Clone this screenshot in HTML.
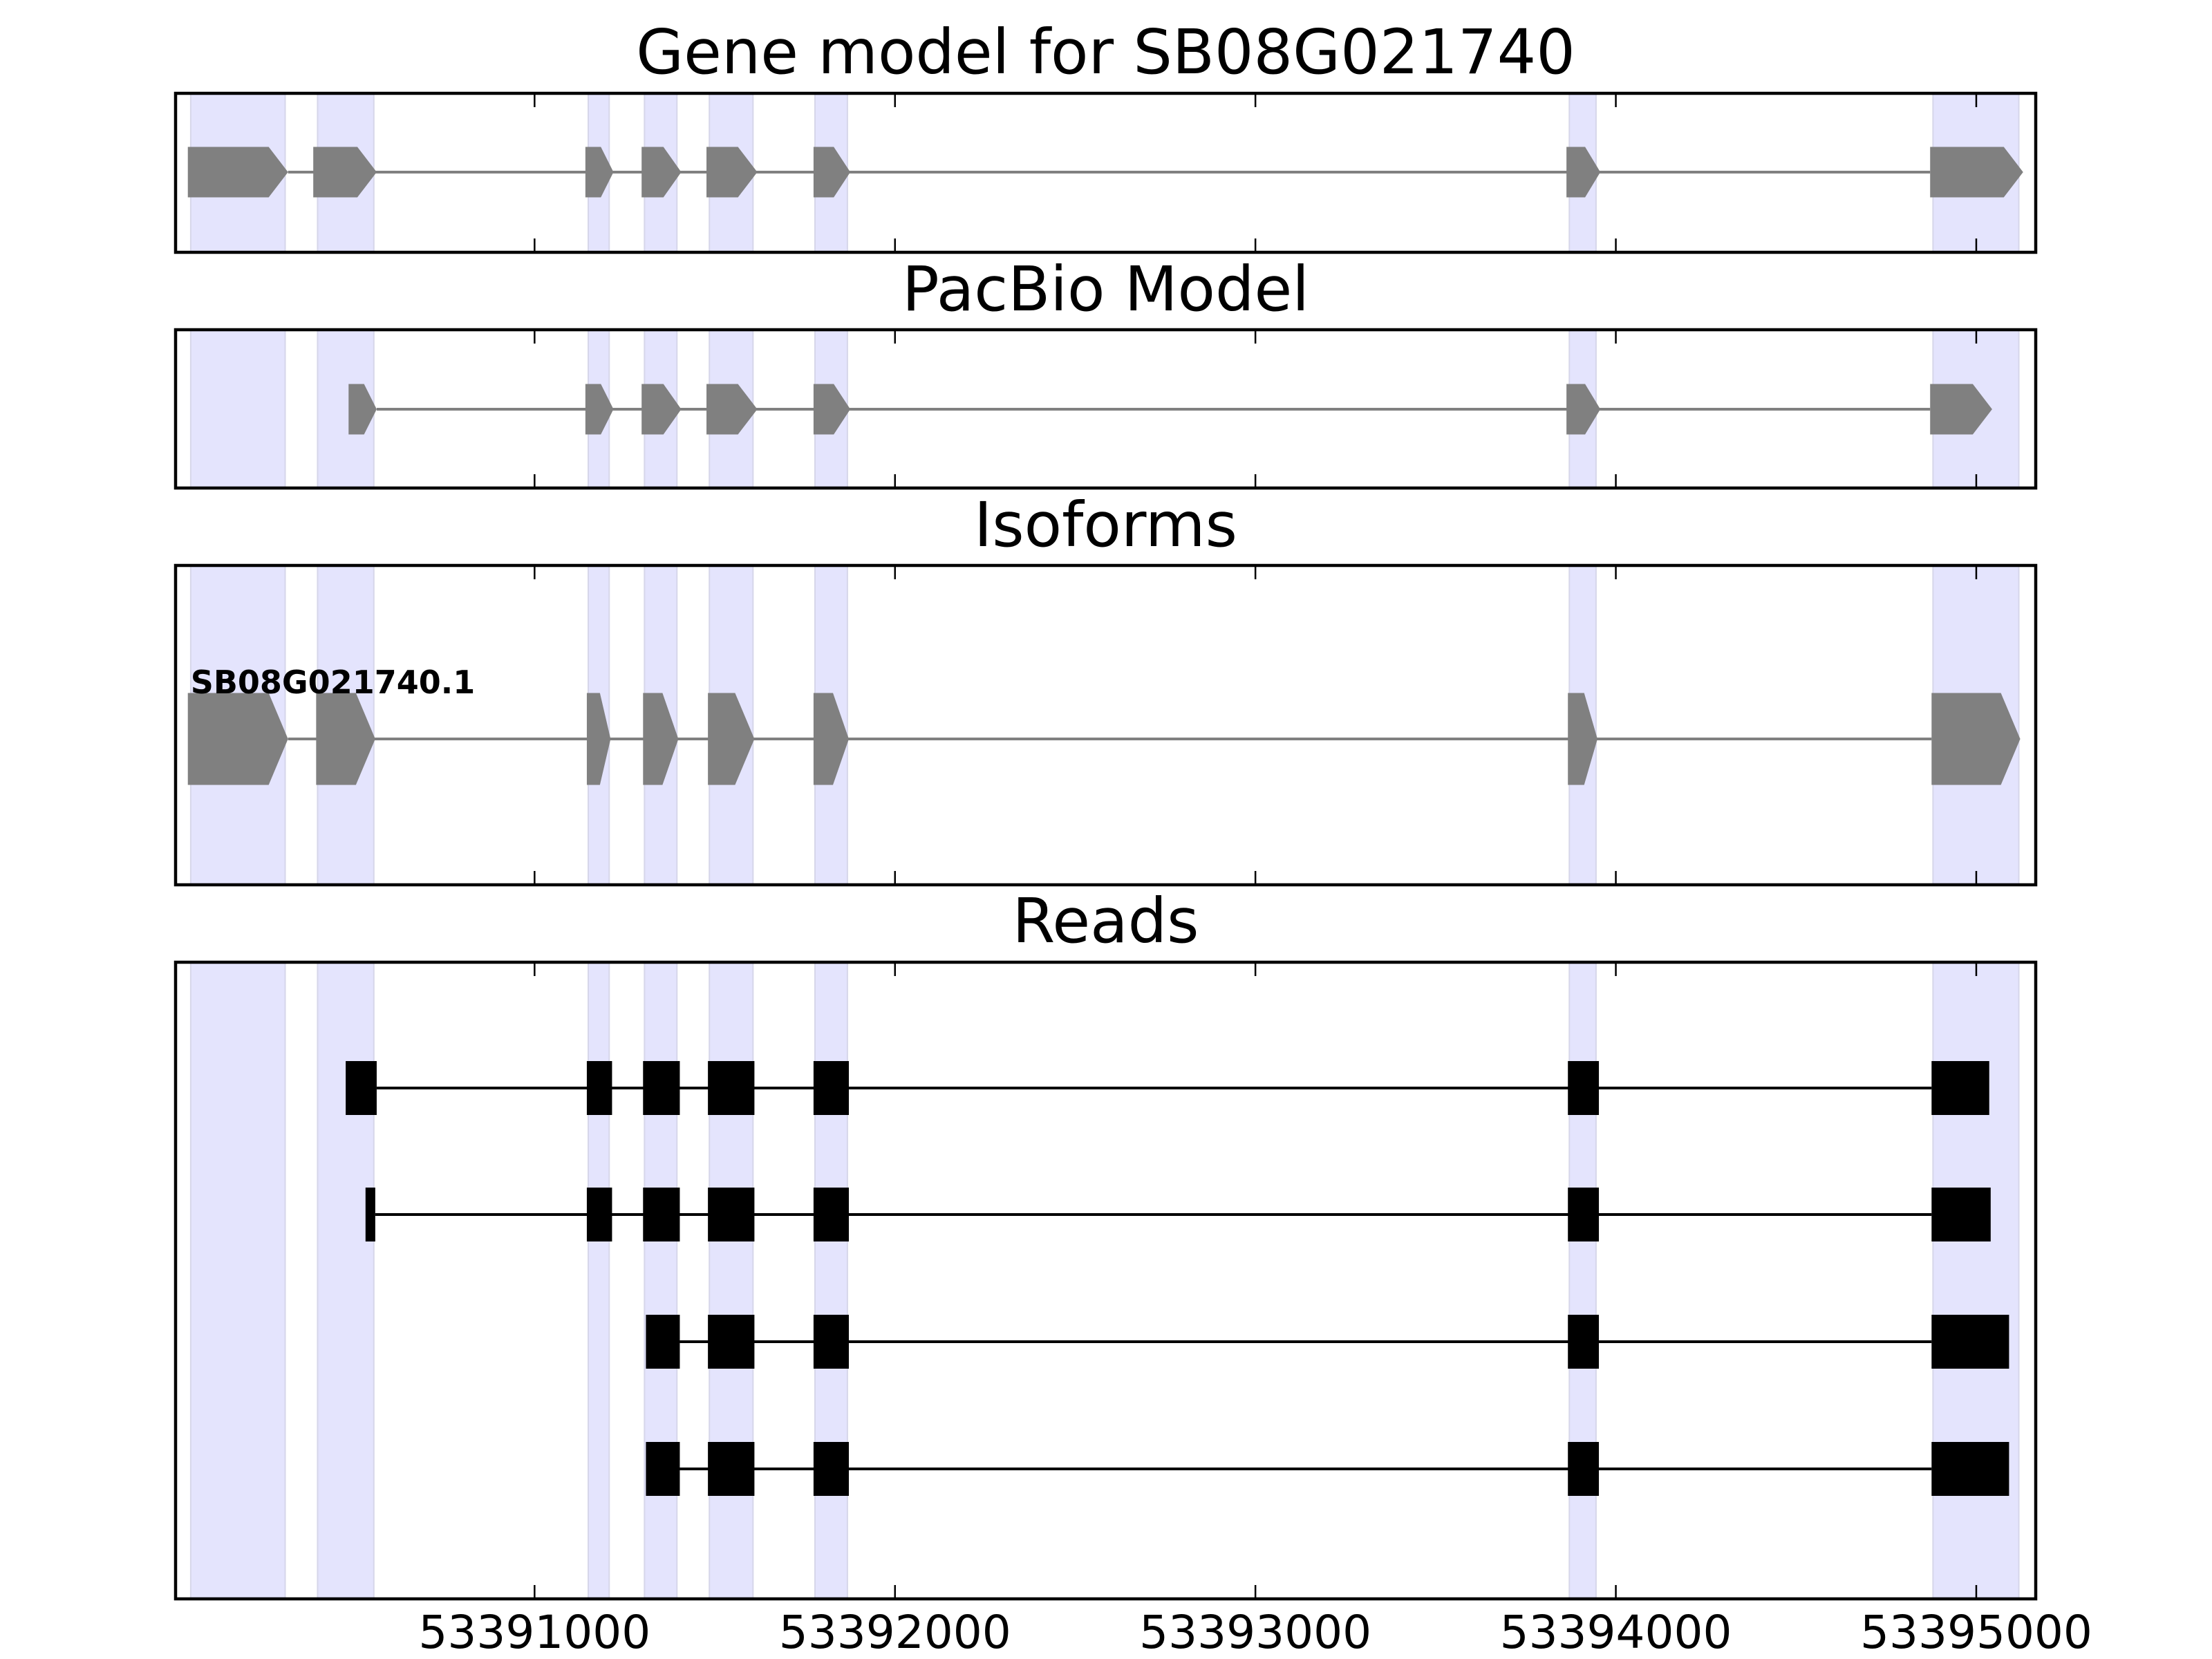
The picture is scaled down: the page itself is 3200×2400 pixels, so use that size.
<!DOCTYPE html>
<html><head><meta charset="utf-8"><style>
html,body{margin:0;padding:0;background:#fff}
svg{display:block}
text{font-family:"DejaVu Sans","Liberation Sans",sans-serif}
</style></head><body>
<svg id="fig" width="3200" height="2400" viewBox="0 0 3200 2400" xmlns="http://www.w3.org/2000/svg"></svg>
<script>
// ---- data ----
const xTicks = [53391000, 53392000, 53393000, 53394000, 53395000];
const xDomain = [53390004, 53395165];
const bands = [[53390046,53390308],[53390398,53390554],[53391149,53391207],[53391305,53391395],[53391485,53391606],[53391778,53391868],[53393871,53393945],[53394880,53395118]];
const geneExons = [[53390038,53390316],[53390386,53390562],[53391141,53391219],[53391297,53391407],[53391477,53391618],[53391774,53391876],[53393863,53393957],[53394872,53395130]];
const pacbioExons = [[53390484,53390562],[53391141,53391219],[53391297,53391407],[53391477,53391618],[53391774,53391876],[53393863,53393957],[53394872,53395044]];
const isoformExons = [[53390038,53390316],[53390394,53390558],[53391145,53391211],[53391301,53391399],[53391481,53391610],[53391774,53391872],[53393867,53393949],[53394876,53395122]];
const isoformName = "SB08G021740.1";
const read1 = [[53390476,53390562],[53391145,53391215],[53391301,53391403],[53391481,53391610],[53391774,53391872],[53393867,53393953],[53394876,53395036]];
const read2 = [[53390531,53390558],[53391145,53391215],[53391301,53391403],[53391481,53391610],[53391774,53391872],[53393867,53393953],[53394876,53395040]];
const read3 = [[53391309,53391403],[53391481,53391610],[53391774,53391872],[53393867,53393953],[53394876,53395091]];
const read4 = [[53391309,53391403],[53391481,53391610],[53391774,53391872],[53393867,53393953],[53394876,53395091]];
const reads = [read1, read2, read3, read4];

// ---- layout ----
const L = 254, R = 2945;
const X = g => L + (g - xDomain[0]) / (xDomain[1] - xDomain[0]) * (R - L);
const NS = "http://www.w3.org/2000/svg";
const svg = document.getElementById('fig');
function mk(tag, attrs, parent){ const e=document.createElementNS(NS,tag); for(const k in attrs) e.setAttribute(k,attrs[k]); (parent||svg).appendChild(e); return e; }

const panels = [
  {title:"Gene model for SB08G021740", top:135, bot:365, tY:106, name:"gene-model-panel"},
  {title:"PacBio Model", top:477, bot:706, tY:449, name:"pacbio-panel"},
  {title:"Isoforms", top:818, bot:1280, tY:790, name:"isoforms-panel"},
  {title:"Reads", top:1392, bot:2313, tY:1363, name:"reads-panel"}
];

function arrowExon(g, a, b, cy, h, name){
  const x1=X(a), x2=X(b), w=x2-x1;
  const tip=Math.min(28, w*0.45);
  const p = mk('polygon',{points:`${x1},${cy-h/2} ${x2-tip},${cy-h/2} ${x2},${cy} ${x2-tip},${cy+h/2} ${x1},${cy+h/2}`, fill:'#808080'}, g);
  
  
}

panels.forEach((p, pi) => {
  const g = mk('g',{});
  
  
  bands.forEach((b, bi) => {
    const r = mk('rect',{x:X(b[0]), y:p.top, width:X(b[1])-X(b[0]), height:p.bot-p.top, fill:'#e4e4fd', stroke:'#d6d6ea', 'stroke-width':2}, g);
    
    
  });
  const t = mk('text',{x:(L+R)/2, y:p.tY, 'text-anchor':'middle', 'font-size':89, fill:'#000'});
  t.textContent = p.title;
  
  
  p.g = g;
});

function intron(g, exons, cy, color, w){
  const ln = mk('line',{x1:X(exons[0][1]), x2:X(exons[exons.length-1][0]), y1:cy, y2:cy, stroke:color, 'stroke-width':w}, g);
  
  
}

// gene model
intron(panels[0].g, geneExons, 249, '#808080', 4);
geneExons.forEach(e => arrowExon(panels[0].g, e[0], e[1], 249, 73, 'gene-exon'));
// pacbio
intron(panels[1].g, pacbioExons, 592, '#808080', 4);
pacbioExons.forEach(e => arrowExon(panels[1].g, e[0], e[1], 592, 73, 'pacbio-exon'));
// isoforms
intron(panels[2].g, isoformExons, 1069, '#808080', 4);
isoformExons.forEach(e => arrowExon(panels[2].g, e[0], e[1], 1069, 133, 'isoform-exon'));
const lab = mk('text',{x:X(isoformExons[0][0])+4, y:1003, 'font-size':46, 'font-weight':'bold', fill:'#000'}, panels[2].g);
lab.textContent = isoformName;


// reads
const rowY = [1574, 1757, 1941, 2125];
reads.forEach((rd, ri) => {
  const cy = rowY[ri];
  intron(panels[3].g, rd, cy, '#000', 4);
  rd.forEach(e => {
    const r = mk('rect',{x:X(e[0]), y:cy-39, width:X(e[1])-X(e[0]), height:78, fill:'#000'}, panels[3].g);
    
    
  });
});

// frames and ticks
panels.forEach(p => {
  xTicks.forEach(tv => {
    const x = X(tv);
    const a = mk('line',{x1:x,x2:x,y1:p.top,y2:p.top+20,stroke:'#000','stroke-width':2.5});
    
    
    const b = mk('line',{x1:x,x2:x,y1:p.bot,y2:p.bot-20,stroke:'#000','stroke-width':2.5});
    
    
  });
  const f = mk('rect',{x:L, y:p.top, width:R-L, height:p.bot-p.top, fill:'none', stroke:'#000', 'stroke-width':4.5});
  
  
});
xTicks.forEach(tv => {
  const t = mk('text',{x:X(tv), y:2384, 'text-anchor':'middle', 'font-size':66, fill:'#000'});
  t.textContent = String(tv);
  
  
});
</script>
</body></html>
